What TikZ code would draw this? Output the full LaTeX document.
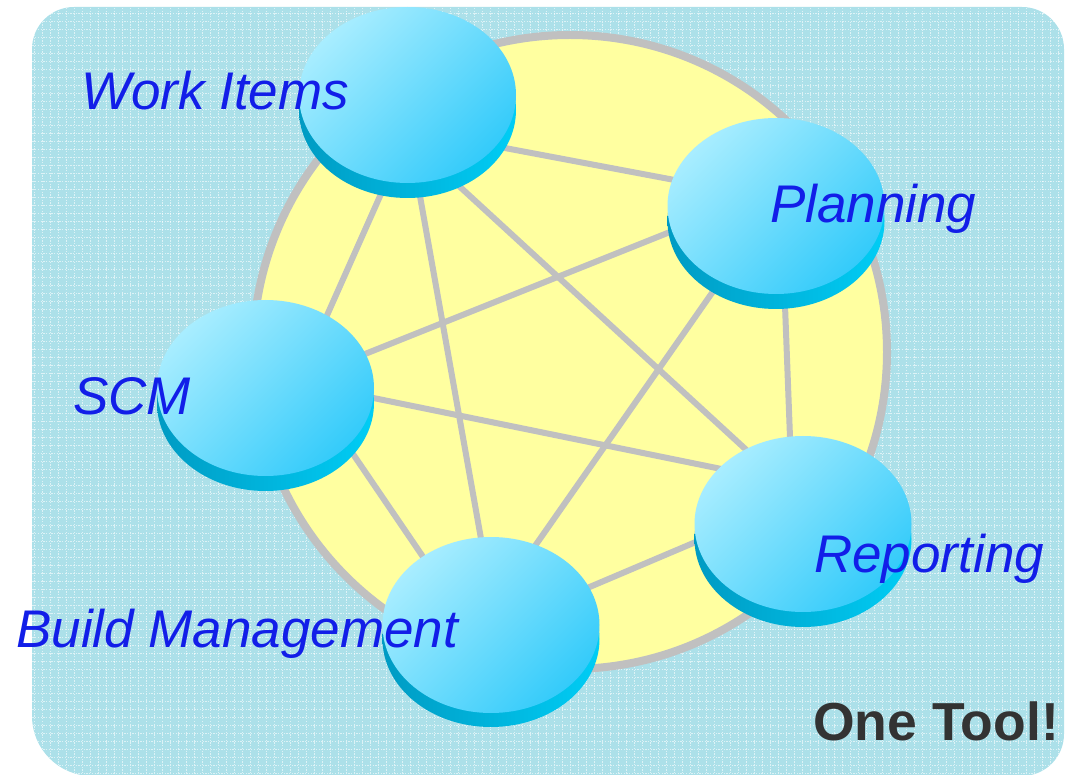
\documentclass[tikz,border=0pt]{standalone}
\usepackage{fontspec}
\setmainfont{Liberation Sans}
\usetikzlibrary{shapes.geometric}
\definecolor{bgc}{RGB}{172,224,233}
\definecolor{yel}{RGB}{255,255,160}
\definecolor{lineg}{RGB}{192,192,192}
\definecolor{faceL}{RGB}{168,237,255}
\definecolor{faceD}{RGB}{52,203,250}
\definecolor{bandL}{RGB}{0,155,195}
\definecolor{bandR}{RGB}{0,205,245}
\definecolor{lblblue}{RGB}{18,30,232}
\definecolor{dark}{RGB}{51,51,51}
\tikzset{
  face/.style={ellipse, minimum width=217pt, minimum height=176pt, inner sep=0pt,
    top color=faceL, bottom color=faceD, shading angle=45},
  band/.style={ellipse, minimum width=217pt, minimum height=176pt, inner sep=0pt,
    left color=bandL, right color=bandR},
  conn/.style={draw=lineg, line width=6pt},
  lbl/.style={font=\fontsize{53}{60}\selectfont\itshape, text=lblblue, inner sep=0pt, anchor=base west},
  big/.style={font=\fontsize{53.5}{60}\selectfont\bfseries, text=dark, inner sep=0pt, anchor=base west}
}
\begin{document}
\begin{tikzpicture}[x=1pt,y=-1pt]
\useasboundingbox (0,0) rectangle (1074,775);
% background panel
\begin{scope}
  \clip (32,400) [rounded corners=42] -- (32,7) -- (1064,7) -- (1064,776)
        [rounded corners=60] -- (32,776) [rounded corners=42] -- cycle;
  \fill[bgc] (0,0) rectangle (1074,776);
  \foreach \x in {34,42,...,1066}
    \draw[white, opacity=0.6, line width=0.8pt, dash pattern=on 1.3pt off 1.4pt] (\x,0) -- (\x,776);
  \foreach \y in {5,13,...,781}
    \draw[white, opacity=0.6, line width=0.8pt, dash pattern=on 1.3pt off 1.4pt] (0,\y) -- (1074,\y);
\end{scope}
% big yellow circle
\draw[line width=8pt, draw=lineg, fill=yel] (570,352) circle[radius=317];
% attachment points (hidden under the disks)
\coordinate (wiP) at (420,132);   \coordinate (pWI) at (770,198);
\coordinate (wiS) at (405,140);   \coordinate (sWI) at (296,385);
\coordinate (wiB) at (410,140);   \coordinate (bWI) at (493,606);
\coordinate (wiR) at (410,141);   \coordinate (rWI) at (790,490);
\coordinate (pS)  at (770,192);   \coordinate (sP)  at (295,382);
\coordinate (pB)  at (777,200);   \coordinate (bP)  at (493,606);
\coordinate (pR)  at (781,200);   \coordinate (rP)  at (792,490);
\coordinate (sR)  at (295,382);   \coordinate (rS)  at (790,483);
\coordinate (sB)  at (304,382);   \coordinate (bS)  at (466,620);
\coordinate (bR)  at (493,628);   \coordinate (rB)  at (790,502);
\draw[conn] (wiP) -- (pWI);
\draw[conn] (wiS) -- (sWI);
\draw[conn] (wiB) -- (bWI);
\draw[conn] (wiR) -- (rWI);
\draw[conn] (pS) -- (sP);
\draw[conn] (pB) -- (bP);
\draw[conn] (pR) -- (rP);
\draw[conn] (sR) -- (rS);
\draw[conn] (sB) -- (bS);
\draw[conn] (bR) -- (rB);
% disks
\node[band] (wiband) at (407.5,110) {};
\node[face] (wi) at (407.5,95) {};
\node[band] (plband) at (776,221) {};
\node[face] (pl) at (776,206) {};
\node[band] (scband) at (265.5,403) {};
\node[face] (sc) at (265.5,388) {};
\node[band] (reband) at (803,539) {};
\node[face] (re) at (803,524) {};
\node[band] (bmband) at (491,639) {};
\node[face] (bm) at (491,625) {};
% labels
\node[lbl] (twi) at (81,110) {Work Items};
\node[lbl] (tpl) at (770,223) {Planning};
\node[lbl] (tsc) at (73,415) {SCM};
\node[lbl] (tre) at (814,572) {Reporting};
\node[lbl] (tbm) at (16,647) {Build Management};
\node[big] (tone) at (813,740) {One Tool!};
\end{tikzpicture}
\end{document}
